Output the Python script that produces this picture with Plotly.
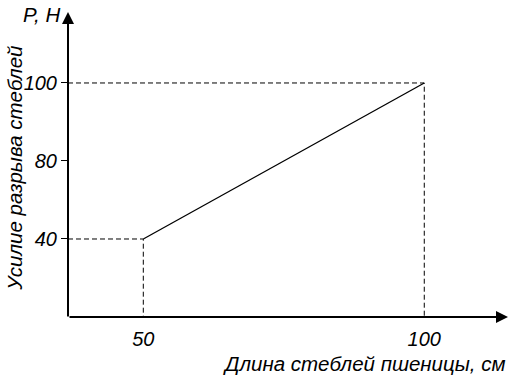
import plotly.graph_objects as go

# Data (schematic chart)
length_cm = [50, 100]          # stem length, cm
force_N = [40, 100]            # breaking force, N
y_tick_labels = [40, 80, 100]  # ordinal y-axis ticks as printed
x_tick_labels = [50, 100]

x_title = "Длина стеблей пшеницы, см"
y_title = "Усилие разрыва стеблей"
y_unit = "P, H"

# The y axis of the original is ordinal (equally spaced tick labels)
y_pos = {v: i + 1 for i, v in enumerate(y_tick_labels)}
y_plot = [y_pos[v] for v in force_N]

x_range = [36.6, 114.9]
y_range = [0, 3.91]

FAMILY = "Liberation Sans, Arial, sans-serif"
TICKFONT = dict(family=FAMILY, size=20, color="black", style="italic")
TITLEFONT = dict(family=FAMILY, size=20.5, color="black", style="italic")

fig = go.Figure()

# dashed guide lines
for xv, yv in zip(length_cm, y_plot):
    fig.add_trace(go.Scatter(x=[x_range[0], xv, xv], y=[yv, yv, y_range[0]], mode="lines",
                             line=dict(color="black", width=1, dash="5px,3px"),
                             hoverinfo="skip", showlegend=False))

# main line
fig.add_trace(go.Scatter(x=length_cm, y=y_plot, mode="lines",
                         line=dict(color="black", width=1.3), showlegend=False))

fig.update_layout(
    width=511, height=375,
    margin=dict(l=68, r=3, t=12, b=58),
    plot_bgcolor="white", paper_bgcolor="white",
    font=TICKFONT,
    xaxis=dict(range=x_range, showgrid=False, zeroline=False, showline=False,
               tickvals=x_tick_labels, ticktext=[str(v) for v in x_tick_labels],
               ticks="", tickfont=TICKFONT, ticklabelstandoff=8),
    yaxis=dict(range=y_range, showgrid=False, zeroline=False, showline=False,
               tickvals=[y_pos[v] for v in y_tick_labels],
               ticktext=[str(v) for v in y_tick_labels],
               ticks="outside", ticklen=6, tickwidth=1, tickcolor="black",
               tickfont=TICKFONT, ticklabelstandoff=0),
)

# axes with arrows
fig.add_annotation(x=1, y=0, xref="paper", yref="paper", ax=-440, ay=0, text="",
                   showarrow=True, arrowhead=2, arrowsize=1.2, arrowwidth=2, arrowcolor="black", standoff=0)
fig.add_annotation(x=0, y=1, xref="paper", yref="paper", ax=0, ay=306, text="",
                   showarrow=True, arrowhead=2, arrowsize=1.2, arrowwidth=2, arrowcolor="black", standoff=0)

# titles
fig.add_annotation(x=-0.061, y=0.993, xref="paper", yref="paper", text=y_unit, showarrow=False,
                   font=TITLEFONT, xanchor="center", yanchor="middle")
fig.add_annotation(x=-0.122, y=0.50, xref="paper", yref="paper", text=y_title, showarrow=False,
                   font=TITLEFONT, textangle=-90, xanchor="center", yanchor="middle", yshift=-4)
fig.add_annotation(x=1.0, y=0, xref="paper", yref="paper", text=x_title, showarrow=False,
                   font=TITLEFONT, xanchor="right", yanchor="top", yshift=-33)

fig.write_html("out.html")
